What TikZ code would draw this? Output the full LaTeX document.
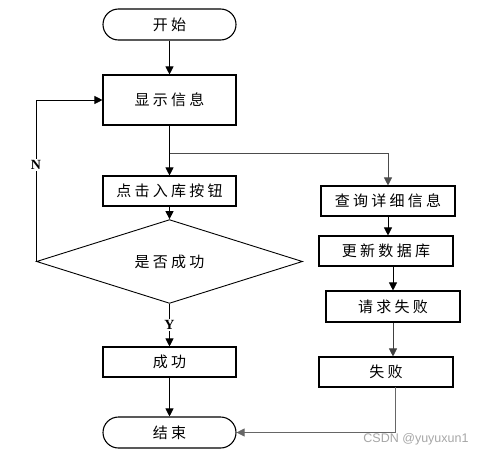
\documentclass[tikz,border=0pt]{standalone}
\usepackage{fontspec}
\newfontfamily\cjk[LetterSpace=22]{Noto Sans CJK SC}
\newfontfamily\latinser{Liberation Serif}
\newfontfamily\wmfont{Liberation Sans}
\usetikzlibrary{arrows.meta,shapes.geometric}
\begin{document}
\begin{tikzpicture}[x=1pt,y=-1pt,
  box/.style={draw=black,line width=1.1pt,rectangle,inner sep=0pt,font=\cjk\fontsize{15}{17}\selectfont},
  term/.style={box,rounded corners=15.5pt},
  dec/.style={draw=black,line width=0.9pt,diamond,inner sep=0pt,minimum width=266pt,minimum height=49pt,font=\cjk\fontsize{15}{17}\selectfont},
  conn/.style={draw=black,line width=0.8pt},
  arr/.style={conn,-{Triangle[length=8pt,width=8pt]}},
  lbl/.style={fill=white,inner sep=1.5pt,font=\latinser\bfseries\fontsize{14}{16}\selectfont}]
\useasboundingbox (0,0) rectangle (486,455);
\node[term,minimum width=133pt,minimum height=31pt] (start) at (169.5,24.5) {开始};
\node[box,minimum width=133pt,minimum height=50pt] (show) at (169.5,100) {显示信息};
\node[box,minimum width=133pt,minimum height=30pt] (click) at (169.5,191) {点击入库按钮};
\node[box,minimum width=134pt,minimum height=30pt] (query) at (388,201) {查询详细信息};
\node[dec] (dia) at (169.5,261.5) {是否成功};
\node[box,minimum width=133pt,minimum height=30pt] (succ) at (169.5,362) {成功};
\node[term,minimum width=133pt,minimum height=31pt] (end) at (169.5,432.5) {结束};
\node[box,minimum width=134pt,minimum height=30pt] (update) at (386,251) {更新数据库};
\node[box,minimum width=134pt,minimum height=31pt] (req) at (393,306.5) {请求失败};
\node[box,minimum width=134pt,minimum height=30pt] (fail) at (386,372) {失败};
\coordinate (br) at (169.5,153);
\coordinate (failout) at (395,387);
\draw[arr] (start.south) -- (show.north);
\draw[conn] (show.south) -- (br);
\draw[arr] (br) -- (click.north);
\draw[arr,draw=black!70] (br) -| (query.north);
\draw[arr] (click.south) -- (dia.north);
\draw[arr] (dia.west) |- (show.west) node[pos=0.3,lbl] (nlab) {N};
\draw[arr] (dia.south) -- (succ.north) node[midway,lbl] (ylab) {Y};
\draw[arr] (succ.south) -- (end.north);
\draw[arr] (query.south) -- (query.south |- update.north);
\draw[arr] (req.north |- update.south) -- (req.north);
\draw[arr,draw=black!75] (req.south) -- (req.south |- fail.north);
\draw[arr,draw=black!60] (failout) |- (end.east);
\node[text=black!35,font=\wmfont\fontsize{12.5}{14}\selectfont] (wm) at (416,439) {CSDN @yuyuxun1};
\end{tikzpicture}
\end{document}
